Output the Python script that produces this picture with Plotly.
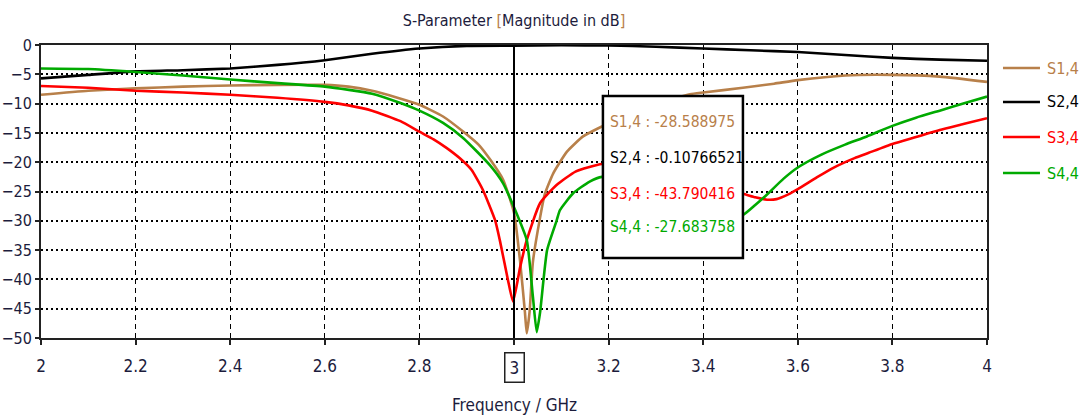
import plotly.graph_objects as go

# ---------------- data ----------------
series_names = ["S1,4", "S2,4", "S3,4", "S4,4"]
series_colors = ["#B8804A", "#000000", "#FF0000", "#00AA00"]

f_s14 = [2.0, 2.1, 2.2, 2.3, 2.4, 2.5, 2.6, 2.65, 2.7, 2.75, 2.8, 2.85, 2.893, 2.925, 2.95, 2.977, 3.0,
         3.013, 3.023, 3.027, 3.033, 3.04, 3.055, 3.065, 3.083, 3.112, 3.146, 3.186,
         3.25, 3.3, 3.372, 3.4, 3.484, 3.55, 3.6, 3.7, 3.8, 3.9, 4.0]
s14 = [-8.5, -7.8, -7.4, -7.1, -6.9, -6.8, -6.8, -7.1, -7.8, -8.9, -10.2, -12.2, -14.8, -17.0, -19.6, -23.0, -28.6,
       -37.0, -45.5, -49.2, -45.5, -37.0, -29.5, -25.5, -21.9, -18.2, -15.6, -13.9,
       -11.5, -10.0, -8.4, -8.1, -7.3, -6.6, -6.0, -5.2, -5.1, -5.4, -6.3]

f_s24 = [2.0, 2.1, 2.2, 2.3, 2.4, 2.5, 2.6, 2.7, 2.8, 2.9, 3.0, 3.1, 3.2, 3.3, 3.4, 3.5,
         3.6, 3.7, 3.8, 3.9, 4.0]
s24 = [-5.7, -5.1, -4.5, -4.3, -4.0, -3.4, -2.6, -1.5, -0.6, -0.15, -0.11, -0.05, -0.08, -0.3, -0.6, -0.9,
       -1.2, -1.7, -2.2, -2.5, -2.7]

f_s34 = [2.0, 2.1, 2.2, 2.3, 2.4, 2.5, 2.6, 2.65, 2.7, 2.76, 2.8, 2.83, 2.858, 2.885, 2.91, 2.934, 2.96, 2.97,
         2.987, 2.998, 3.013, 3.027, 3.055, 3.09, 3.13, 3.186, 3.25, 3.3, 3.35, 3.4, 3.45, 3.484,
         3.51, 3.535, 3.555, 3.58, 3.6, 3.64, 3.674, 3.72, 3.75, 3.8, 3.85, 3.9, 3.95, 4.0]
s34 = [-7.0, -7.3, -7.8, -8.1, -8.5, -9.0, -9.7, -10.3, -11.2, -13.0, -14.8, -16.1, -17.6, -19.3, -21.3, -24.7,
       -29.9, -33.3, -40.0, -43.8, -37.9, -33.3, -27.0, -23.9, -21.6, -20.3, -20.8, -21.8, -22.9, -24.0,
       -24.9, -25.4, -26.0, -26.4, -26.3, -25.5, -24.6, -22.6, -21.0, -19.3, -18.4, -16.9, -15.7, -14.5,
       -13.5, -12.5]

f_s44 = [2.0, 2.1, 2.2, 2.3, 2.4, 2.5, 2.6, 2.7, 2.76, 2.8, 2.85, 2.893, 2.949, 2.977, 3.0, 3.027, 3.04,
         3.048, 3.055, 3.07, 3.09, 3.097, 3.125, 3.16, 3.186, 3.25, 3.3, 3.35, 3.4, 3.45, 3.484,
         3.51, 3.535, 3.57, 3.6, 3.65, 3.7, 3.746, 3.8, 3.85, 3.9, 3.95, 4.0]
s44 = [-4.0, -4.1, -4.6, -5.2, -5.9, -6.5, -7.1, -8.3, -9.9, -11.2, -13.3, -15.9, -20.5, -23.6, -27.7, -33.3,
       -43.0, -49.0, -45.7, -35.0, -30.0, -28.2, -25.3, -23.3, -22.5, -23.0, -24.5, -26.3, -28.0, -29.3,
       -29.0, -27.3, -25.5, -22.8, -20.9, -18.7, -17.0, -15.6, -13.8, -12.4, -11.2, -10.0, -8.8]

marker_freq = 3.0
marker_values = ["-28.588975", "-0.10766521", "-43.790416", "-27.683758"]

x_ticks = [2, 2.2, 2.4, 2.6, 2.8, 3, 3.2, 3.4, 3.6, 3.8, 4]
x_tick_text = ["2", "2.2", "2.4", "2.6", "2.8", "", "3.2", "3.4", "3.6", "3.8", "4"]
y_ticks = [0, -5, -10, -15, -20, -25, -30, -35, -40, -45, -50]

x_title = "Frequency / GHz"

# ---------------- figure ----------------
FONT = "DejaVu Sans Condensed, Liberation Sans Narrow, Liberation Sans, sans-serif"
TXT = "#1c1c3c"

fig = go.Figure()
xs = [f_s14, f_s24, f_s34, f_s44]
ys = [s14, s24, s34, s44]
for name, col, x, y in zip(series_names, series_colors, xs, ys):
    fig.add_trace(go.Scatter(
        x=x, y=y, mode="lines",
        line=dict(color=col, width=2.6, shape="spline", smoothing=0.5),
        name=name, showlegend=False,
    ))

fig.update_layout(
    width=1086, height=416,
    margin=dict(l=41, r=99, t=45, b=78),
    paper_bgcolor="white", plot_bgcolor="white",
    font=dict(family=FONT, size=17, color=TXT),
    showlegend=False,
    title=dict(
        text=("S-Parameter <span style='color:#B8804A'>[</span>Magnitude in dB"
              "<span style='color:#B8804A'>]</span>"),
        x=0.5, xref="paper", xanchor="center",
        y=1 - 20 / 416, yref="container", yanchor="middle",
        font=dict(family=FONT, size=16, color=TXT),
    ),
)

fig.update_xaxes(
    range=[2, 4], tickvals=x_ticks, ticktext=x_tick_text, automargin=False,
    showline=True, mirror=True, linecolor="#222222", linewidth=2,
    ticks="outside", ticklen=5, tickcolor="#222222", tickwidth=1.5,
    showgrid=True, gridcolor="#000000", gridwidth=1, griddash="5px,4px",
    zeroline=False, ticklabelstandoff=7,
    tickfont=dict(family=FONT, size=17, color=TXT),
)
fig.update_yaxes(
    range=[-50, 0], tickvals=y_ticks, automargin=False,
    showline=True, mirror=True, linecolor="#222222", linewidth=2,
    ticks="outside", ticklen=4, tickcolor="#222222", tickwidth=1.5,
    showgrid=True, gridcolor="#000000", gridwidth=2, griddash="2px,3px",
    zeroline=False,
    tickfont=dict(family=FONT, size=16, color=TXT),
)

# marker line at the selected frequency
fig.add_shape(type="line", xref="x", yref="paper", x0=marker_freq, x1=marker_freq,
              y0=0, y1=1, line=dict(color="#000000", width=2))

# boxed tick label of marker frequency
fig.add_annotation(x=marker_freq, xref="x", y=-0.102, yref="paper", text="3",
                   showarrow=False, yanchor="middle", xanchor="center",
                   font=dict(family=FONT, size=17, color=TXT),
                   bordercolor="#222222", borderwidth=1.5, borderpad=4, bgcolor="white")

# x-axis title
fig.add_annotation(x=0.5, xref="paper", y=-0.229, yref="paper", text=x_title,
                   showarrow=False, yanchor="middle", xanchor="center",
                   font=dict(family=FONT, size=17, color=TXT))

# legend (manual, to match spacing)
legend_ys = [0.9215, 0.8055, 0.686, 0.563]
for name, col, ly in zip(series_names, series_colors, legend_ys):
    fig.add_shape(type="line", xref="paper", yref="paper", x0=1.0169, x1=1.056,
                  y0=ly, y1=ly, line=dict(color=col, width=2.6))
    fig.add_annotation(x=1.061, xref="paper", y=ly, yref="paper", text=name,
                       showarrow=False, xanchor="left", yanchor="middle",
                       font=dict(family=FONT, size=16, color=col))

# marker readout box
fig.add_shape(type="rect", xref="paper", yref="paper", x0=0.594, x1=0.742,
              y0=0.273, y1=0.826, fillcolor="white",
              line=dict(color="#000000", width=2.5), layer="above")
line_ys = [0.738, 0.613, 0.490, 0.378]
for name, col, val, ly in zip(series_names, series_colors, marker_values, line_ys):
    fig.add_annotation(x=0.599, xref="paper", y=ly, yref="paper",
                       text=f"{name} : {val}", showarrow=False,
                       xanchor="left", yanchor="middle",
                       font=dict(family=FONT, size=15.5, color=col))

fig.write_html("out.html")
